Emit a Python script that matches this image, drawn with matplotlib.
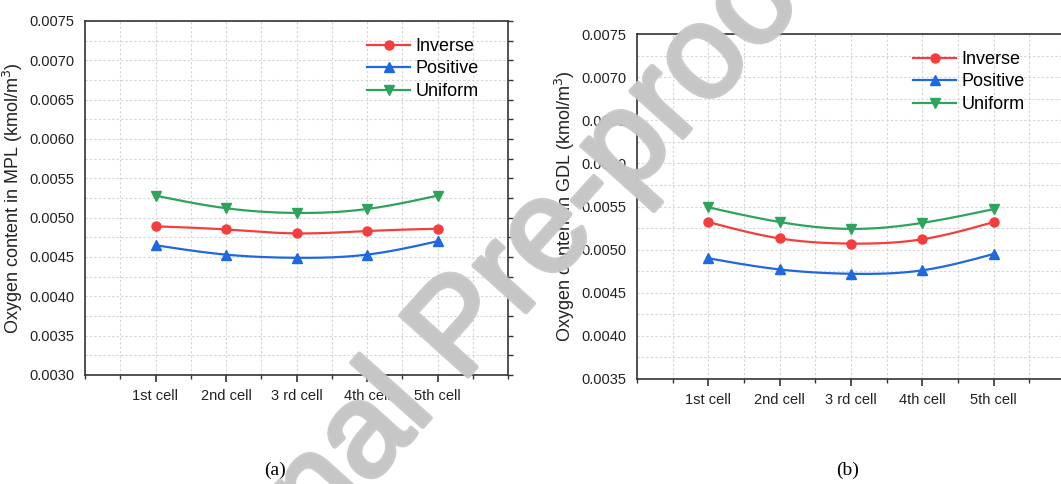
import numpy as np
import matplotlib
matplotlib.use("Agg")
import matplotlib.pyplot as plt
import matplotlib.patheffects as pe
from matplotlib.ticker import MultipleLocator, FixedLocator

plt.rcParams['font.family'] = ['Liberation Sans', 'DejaVu Sans']

cells = ["1st cell", "2nd cell", "3 rd cell", "4th cell", "5th cell"]
series_names = ["Inverse", "Positive", "Uniform"]

mpl_inverse = [0.00489, 0.00485, 0.00480, 0.00483, 0.00486]
mpl_positive = [0.00465, 0.00453, 0.00449, 0.00453, 0.00470]
mpl_uniform = [0.00528, 0.00512, 0.00506, 0.00511, 0.00528]

gdl_inverse = [0.00532, 0.00513, 0.00507, 0.00512, 0.00532]
gdl_positive = [0.00490, 0.00477, 0.00472, 0.00476, 0.00495]
gdl_uniform = [0.00549, 0.00532, 0.00524, 0.00531, 0.00547]

colors = ["#F43E3E", "#1F68E0", "#2EA35C"]
markers = ["o", "^", "v"]


def spline_curve(x, y, n=200):
    """Natural cubic spline through the data points (for the smooth connector)."""
    x = np.asarray(x, float)
    y = np.asarray(y, float)
    k = len(x)
    h = np.diff(x)
    A = np.zeros((k, k))
    b = np.zeros(k)
    A[0, 0] = A[-1, -1] = 1
    for i in range(1, k - 1):
        A[i, i - 1] = h[i - 1]
        A[i, i] = 2 * (h[i - 1] + h[i])
        A[i, i + 1] = h[i]
        b[i] = 6 * ((y[i + 1] - y[i]) / h[i] - (y[i] - y[i - 1]) / h[i - 1])
    M = np.linalg.solve(A, b)
    xs = np.linspace(x[0], x[-1], n)
    idx = np.clip(np.searchsorted(x, xs) - 1, 0, k - 2)
    x0, x1 = x[idx], x[idx + 1]
    hh = x1 - x0
    ys = (M[idx] * (x1 - xs) ** 3 / (6 * hh) + M[idx + 1] * (xs - x0) ** 3 / (6 * hh)
          + (y[idx] / hh - M[idx] * hh / 6) * (x1 - xs)
          + (y[idx + 1] / hh - M[idx + 1] * hh / 6) * (xs - x0))
    return xs, ys


fig = plt.figure(figsize=(10.61, 4.84), dpi=100)

ax1 = fig.add_axes([85 / 1061, 109 / 484, 423 / 1061, 354 / 484])
ax2 = fig.add_axes([637 / 1061, 105 / 484, 428 / 1061, 345 / 484])

panels = [
    (ax1, [mpl_inverse, mpl_positive, mpl_uniform], (0.0030, 0.0075),
     "Oxygen content in MPL (kmol/m$^3$)", (367 / 1061, 1 - 38 / 484), "(a)", 275),
    (ax2, [gdl_inverse, gdl_positive, gdl_uniform], (0.0035, 0.0075),
     "Oxygen content in GDL (kmol/m$^3$)", (913 / 1061, 1 - 51 / 484), "(b)", 848),
]

xpos = np.arange(1, len(cells) + 1)

for ax, data, ylim, ylabel, legpos, plabel, plx in panels:
    ax.set_facecolor("none")
    for vals, c, m, name in zip(data, colors, markers, series_names):
        xs, ys = spline_curve(xpos, vals)
        ax.plot(xs, ys, color=c, lw=1.6, zorder=3)
        ax.plot(xpos, vals, linestyle="none", marker=m, color=c, ms=6.5, zorder=4)
        ax.plot([], [], color=c, lw=1.6, marker=m, ms=6.5, label=name)
    ax.set_xlim(0, 6)
    ax.set_ylim(*ylim)
    ax.xaxis.set_major_locator(FixedLocator(xpos))
    ax.set_xticklabels(cells)
    ax.xaxis.set_minor_locator(MultipleLocator(0.5))
    ax.yaxis.set_major_locator(MultipleLocator(0.0005))
    ax.yaxis.set_minor_locator(MultipleLocator(0.00025))
    ax.yaxis.set_major_formatter(matplotlib.ticker.FormatStrFormatter("%.4f"))
    ax.grid(True, which="both", color="#d4d4d4", linestyle=(0, (2, 2)), lw=0.8, zorder=0)
    ax.set_axisbelow(True)
    for s in ax.spines.values():
        s.set_color("#333333")
        s.set_linewidth(1.2)
    ax.tick_params(axis="x", which="major", direction="out", length=5, width=1.2,
                   color="#333333", labelsize=10.5, pad=5, labelcolor="#222222")
    ax.tick_params(axis="x", which="minor", direction="out", length=3, width=1.0,
                   color="#333333")
    ax.tick_params(axis="y", which="both", left=False, right=True, direction="out",
                   length=3.5, width=1.0, color="#333333", labelsize=10.5, pad=4,
                   labelcolor="#222222")
    ax.set_ylabel(ylabel, fontsize=13, labelpad=3, color="#222222")
    ax.legend(loc="upper left", bbox_to_anchor=legpos, bbox_transform=fig.transFigure,
              frameon=False, fontsize=13, handlelength=2.4, handletextpad=0.3,
              labelspacing=0.3, borderpad=0, borderaxespad=0)
    fig.text(plx / 1061, 1 - 470 / 484, plabel, ha="center", va="center",
             family=["Liberation Serif", "DejaVu Serif"], fontsize=14)

wm_color = "#c6c6c6"
fig.text(488 / 1061, 1 - 354 / 484, "Journal Pre-proof", rotation=48,
         rotation_mode="anchor", ha="center", va="baseline", fontsize=95,
         color=wm_color, alpha=0.92, zorder=10,
         path_effects=[pe.withStroke(linewidth=3.5, foreground=wm_color)])

fig.savefig("out.png", dpi=100)
